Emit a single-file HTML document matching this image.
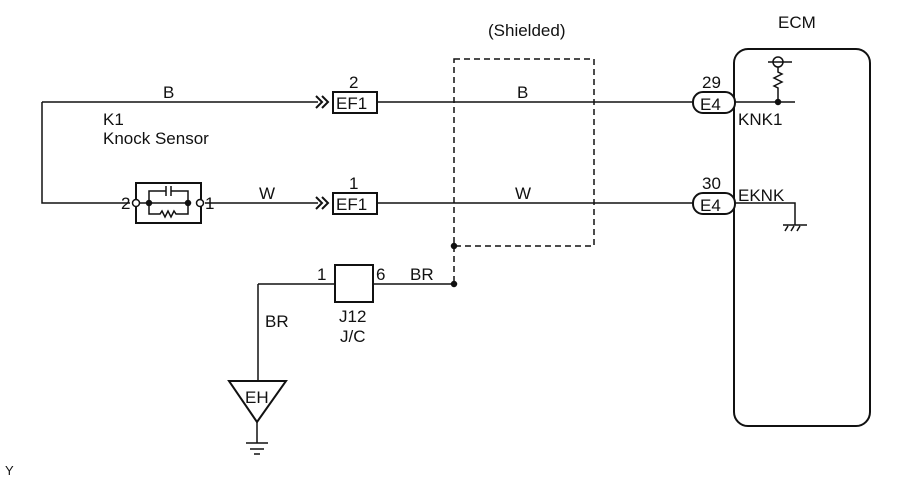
<!DOCTYPE html>
<html><head><style>body{margin:0;background:#fff}svg{display:block}text{font-family:"Liberation Sans",sans-serif;font-size:17px;fill:#111}</style></head><body>
<svg width="906" height="483" viewBox="0 0 906 483" xmlns="http://www.w3.org/2000/svg" fill="none" stroke="#111" stroke-width="1.5">
<path d="M42 102H318M377 102H693M42 102V203H130M205 203H318M377 203H693"/>
<path d="M316 96l6 6-6 6M322 96l6 6-6 6M316 197l6 6-6 6M322 197l6 6-6 6" stroke-width="2"/>
<rect x="333" y="92" width="44" height="21" stroke-width="2"/>
<rect x="333" y="193" width="44" height="21" stroke-width="2"/>
<rect x="136" y="183" width="65" height="40" stroke-width="2"/>
<circle cx="136" cy="203" r="3.5" fill="#fff"/><circle cx="200" cy="203" r="3.5" fill="#fff"/>
<circle cx="149" cy="203" r="2.5" fill="#111"/><circle cx="188" cy="203" r="2.5" fill="#111"/>
<path d="M140 203H186M149 203V191H166M171 191H188V203M166 186V196M171 186V196M149 203V214H160l2-3 3 6 3-6 3 6 3-6 2 3H188V203"/>
<rect x="454" y="59" width="140" height="187" stroke-dasharray="6,4"/>
<path d="M454 246V284" stroke-dasharray="6,4"/>
<circle cx="454" cy="246" r="2.5" fill="#111"/><circle cx="454" cy="284" r="2.5" fill="#111"/>
<path d="M258 284H454M258 284V381"/>
<rect x="335" y="265" width="38" height="37" stroke-width="2" fill="#fff"/>
<path d="M229 381H286L257 422Z" stroke-width="2"/>
<path d="M257 422V443M246 443H268M250 449H264M254 454H260"/>
<rect x="734" y="49" width="136" height="377" rx="14" stroke-width="2"/>
<rect x="693" y="92" width="42" height="21" rx="10" stroke-width="2" fill="#fff"/>
<rect x="693" y="193" width="42" height="21" rx="10" stroke-width="2" fill="#fff"/>
<path d="M735 102H795M778 102V88l-4-2 8-4-8-4 8-4-4-2V67"/>
<circle cx="778" cy="62" r="5"/><path d="M768 62H792"/>
<circle cx="778" cy="102" r="2.5" fill="#111"/>
<path d="M735 203H795V225M783 225H807M785 231l3-5M791 231l3-5M797 231l3-5"/>
</svg>
<svg width="906" height="483" style="position:absolute;left:0;top:0" xmlns="http://www.w3.org/2000/svg">
<text x="163" y="98">B</text>
<text x="103" y="125">K1</text>
<text x="103" y="144">Knock Sensor</text>
<text x="349" y="88">2</text>
<text x="336" y="109">EF1</text>
<text x="349" y="189">1</text>
<text x="336" y="210">EF1</text>
<text x="517" y="98">B</text>
<text x="515" y="199">W</text>
<text x="259" y="199">W</text>
<text x="121" y="209">2</text>
<text x="205" y="209">1</text>
<text x="488" y="36">(Shielded)</text>
<text x="778" y="28">ECM</text>
<text x="702" y="88">29</text>
<text x="700" y="110">E4</text>
<text x="738" y="125">KNK1</text>
<text x="702" y="189">30</text>
<text x="700" y="211">E4</text>
<text x="738" y="201">EKNK</text>
<text x="317" y="280">1</text>
<text x="376" y="280">6</text>
<text x="410" y="280">BR</text>
<text x="339" y="322">J12</text>
<text x="340" y="342">J/C</text>
<text x="265" y="327">BR</text>
<text x="245" y="403">EH</text>
<text x="5" y="475" style="font-size:13px">Y</text>
</svg>
</body></html>
